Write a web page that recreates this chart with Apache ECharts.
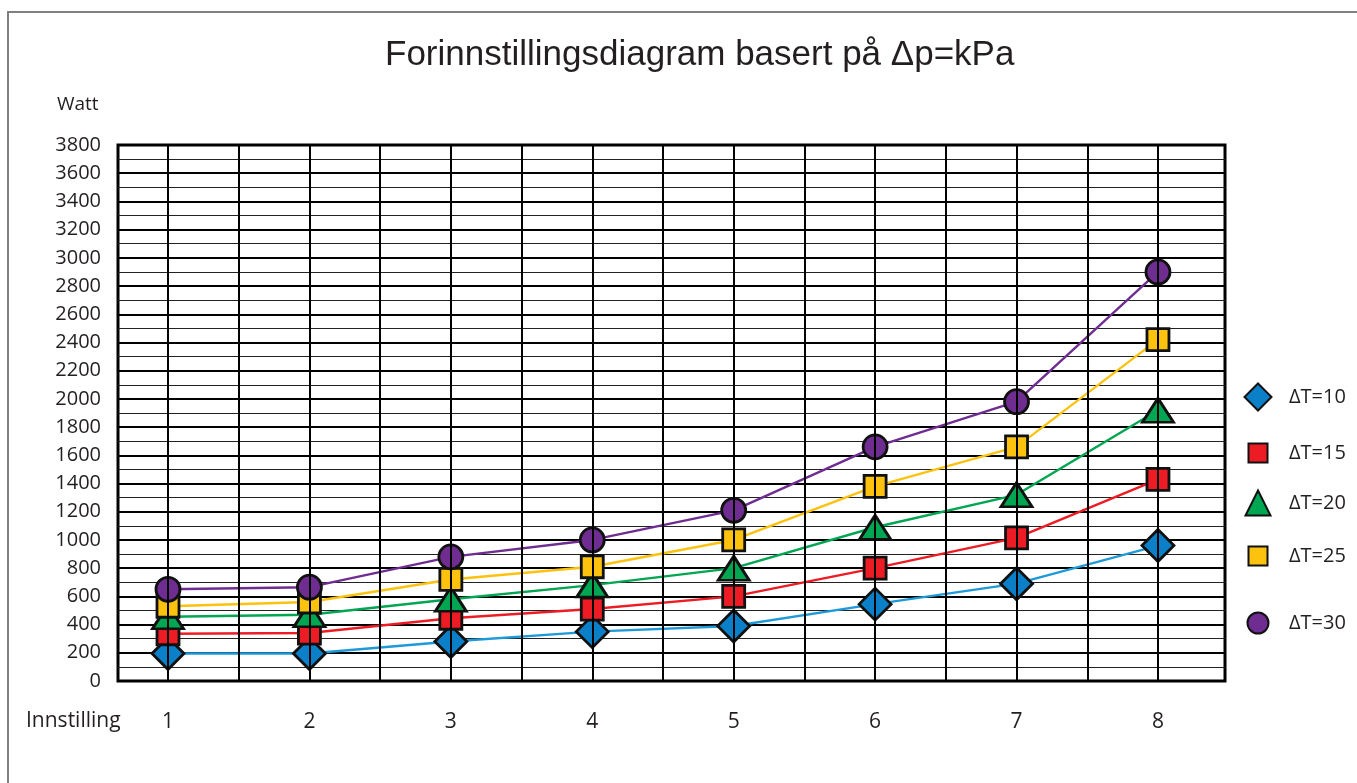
<!DOCTYPE html>
<html>
<head>
<meta charset="utf-8">
<script src="https://cdn.jsdelivr.net/npm/echarts@6/dist/echarts.min.js"></script>
<style>
  html, body { margin: 0; padding: 0; background: #fff; }
  #chart { width: 1357px; height: 783px; }
</style>
</head>
<body>
<div id="chart"></div>
<script>
// Innstilling 1..8, Watt per ΔT
const settings = [1, 2, 3, 4, 5, 6, 7, 8]
const dt10 = [195, 195, 280, 350, 390, 545, 690, 960]
const dt15 = [335, 340, 445, 510, 600, 800, 1015, 1430]
const dt20 = [455, 470, 580, 680, 800, 1090, 1320, 1920]
const dt25 = [530, 560, 720, 810, 1000, 1380, 1660, 2420]
const dt30 = [650, 665, 880, 1000, 1210, 1660, 1980, 2900]
const seriesNames = ['ΔT=10', 'ΔT=15', 'ΔT=20', 'ΔT=25', 'ΔT=30']
const yTicks = [0, 3800, 200]
const xGrid = [1, 1.5, 2, 2.5, 3, 3.5, 4, 4.5, 5, 5.5, 6, 6.5, 7, 7.5, 8]

const font = '"Open Sans", "Noto Sans", sans-serif'
const txt = '#231f20'

const styles = [
  {data: dt10, symbol: 'diamond', size: 32, fill: '#0b7fc7', line: '#1f9ad8', leg: 27, legTop: 396},
  {data: dt15, symbol: 'rect', size: 22, fill: '#ed1c24', line: '#ed1c24', leg: 19, legTop: 452},
  {data: dt20, symbol: 'triangle', size: [31, 24], fill: '#00a651', line: '#00a651', leg: 25, legTop: 502},
  {data: dt25, symbol: 'rect', size: 22, fill: '#fdc20e', line: '#fdc20e', leg: 19, legTop: 555},
  {data: dt30, symbol: 'circle', size: 24, fill: '#6f2c91', line: '#6f2c91', leg: 21, legTop: 622}
]

const pairs = arr => settings.map((s, i) => [s, arr[i]])

let series = []
// vertical grid lines
series.push({
  type: 'line',
  data: [],
  silent: true,
  z: 1,
  markLine: {
    silent: true,
    symbol: ['none', 'none'],
    label: {show: false},
    lineStyle: {color: '#000', width: 2, type: 'solid'},
    data: xGrid.map(v => ({xAxis: v}))
  }
})
styles.forEach((s, i) => {
  series.push({
    type: 'line',
    data: pairs(s.data),
    showSymbol: false,
    silent: true,
    z: 2,
    lineStyle: {color: s.line, width: 2.4}
  })
})
styles.forEach((s, i) => {
  series.push({
    name: seriesNames[i],
    type: 'scatter',
    data: pairs(s.data),
    symbol: s.symbol,
    symbolSize: s.size,
    z: 3,
    itemStyle: {color: s.fill, borderColor: '#111', borderWidth: 2.8, opacity: 1}
  })
})

// one legend per item so each row sits at its own height
const legends = styles.map((s, i) => ({
  data: [seriesNames[i]],
  orient: 'vertical',
  left: 1257 - s.leg / 2,
  top: s.legTop - s.leg / 2,
  itemWidth: s.leg,
  itemHeight: s.leg,
  padding: 0,
  textStyle: {
    fontFamily: font, fontSize: 20, color: txt,
    padding: [0, 0, 0, 1288 - (1257 + s.leg / 2 + 5)]
  }
}))

let chart = echarts.init(document.getElementById('chart'))
chart.setOption({
  animation: false,
  backgroundColor: '#fff',
  title: {
    text: 'Forinnstillingsdiagram basert på Δp=kPa',
    left: 380,
    top: 33,
    textStyle: {fontFamily: '"Liberation Sans", Arial, sans-serif', fontSize: 35, fontWeight: 'normal', color: txt}
  },
  legend: legends,
  grid: {
    left: 118, top: 145, right: 132, bottom: 102,
    show: true, borderColor: '#000', borderWidth: 3, backgroundColor: 'transparent'
  },
  xAxis: {
    type: 'value',
    min: 0.6465,
    max: 8.474,
    splitNumber: 8,
    axisLine: {show: false},
    axisTick: {show: false},
    splitLine: {show: false},
    axisLabel: {
      margin: 31,
      fontFamily: font, fontSize: 21, color: txt,
      showMinLabel: false, showMaxLabel: false,
      formatter: v => Number.isInteger(v) ? String(v) : ''
    }
  },
  yAxis: {
    type: 'value',
    min: yTicks[0],
    max: yTicks[1],
    interval: yTicks[2],
    axisLine: {show: false},
    axisTick: {show: false},
    axisLabel: {margin: 17, fontFamily: font, fontSize: 20, color: txt, formatter: v => String(v)},
    splitLine: {lineStyle: {color: '#000', width: 2}},
    minorTick: {show: false, splitNumber: 2},
    minorSplitLine: {show: true, lineStyle: {color: '#222', width: 1.2}}
  },
  graphic: [
    {type: 'rect', shape: {x: 8, y: 12, width: 1400, height: 800}, style: {fill: 'none', stroke: '#808080', lineWidth: 2}, silent: true},
    {type: 'text', left: 57, top: 95, style: {text: 'Watt', font: '19px ' + font, fill: txt}},
    {type: 'text', left: 26, top: 711, style: {text: 'Innstilling', font: '21px ' + font, fill: txt}}
  ],
  series: series
})
</script>
</body>
</html>
